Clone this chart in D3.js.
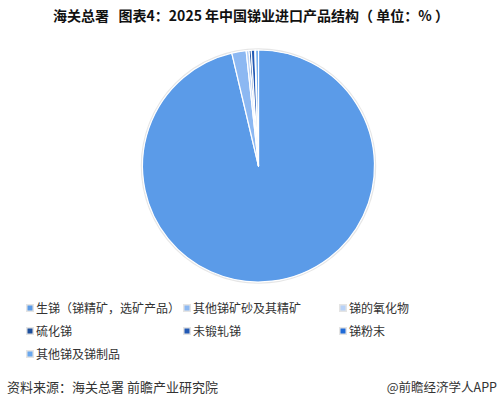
<!DOCTYPE html>
<html>
<head>
<meta charset="utf-8">
<script src="https://cdn.jsdelivr.net/npm/d3@7"></script>
<style>
  body { margin: 0; background: #fff; }
  svg { display: block; font-family: "Noto Sans CJK SC", "Noto Sans", sans-serif; }
  text { white-space: pre; }
</style>
</head>
<body>
<svg id="chart" width="503" height="400"></svg>
<script>
// 数据（从图中估读，单位：%）
const categories = ["生锑（锑精矿，选矿产品）", "其他锑矿砂及其精矿", "锑的氧化物", "硫化锑", "未锻轧锑", "锑粉末", "其他锑及锑制品"];
const values = [96.3, 2.0, 0.4, 0.3, 0.5, 0.1, 0.4];
const colors = ["#5b9be8", "#8cb8f2", "#b8d2f8", "#1d4f9c", "#2259b4", "#1f6ad8", "#6aa8ee"];

const svg = d3.select("#chart");

// 标题
svg.append("text")
    .attr("x", 251)
    .attr("y", 21)
    .attr("text-anchor", "middle")
    .attr("font-size", 14)
    .attr("font-weight", "bold")
    .attr("fill", "#111")
    .text("海关总署   图表4：2025 年中国锑业进口产品结构（ 单位：% ）");

// 饼图
const cx = 258.5, cy = 166, r = 116;
const pie = d3.pie().sort(null).value(d => d.v);
const arc = d3.arc().innerRadius(0).outerRadius(r);
const data = categories.map((c, i) => ({ c, v: values[i], color: colors[i] }));

const g = svg.append("g").attr("transform", `translate(${cx},${cy})`);
g.append("circle")
    .attr("r", r + 1)
    .attr("fill", "none")
    .attr("stroke", "#e6e6e6")
    .attr("stroke-width", 1.5);
g.selectAll("path")
    .data(pie(data))
    .enter()
    .append("path")
    .attr("d", arc)
    .attr("fill", d => d.data.color)
    .attr("stroke", "#fff")
    .attr("stroke-width", 1.2)
    .attr("stroke-linejoin", "round");

// 图例
const colX = [30, 187, 343];
const rowY = [308, 331, 354];
const legend = svg.append("g");
data.forEach((d, i) => {
    const x = colX[i % 3], y = rowY[Math.floor(i / 3)];
    legend.append("rect")
        .attr("x", x - 4).attr("y", y - 4)
        .attr("width", 8).attr("height", 8)
        .attr("fill", "#e4e4e4");
    legend.append("rect")
        .attr("x", x - 2.5).attr("y", y - 2.5)
        .attr("width", 5).attr("height", 5)
        .attr("fill", d.color);
    legend.append("text")
        .attr("x", x + 6)
        .attr("y", y + 5)
        .attr("font-size", 12)
        .attr("fill", "#333")
        .text(d.c);
});

// 来源
svg.append("text")
    .attr("x", 7).attr("y", 392)
    .attr("font-size", 13)
    .attr("fill", "#333")
    .text("资料来源：海关总署 前瞻产业研究院");
svg.append("text")
    .attr("x", 497).attr("y", 392)
    .attr("text-anchor", "end")
    .attr("font-size", 12.5)
    .attr("fill", "#333")
    .text("@前瞻经济学人APP");
</script>
</body>
</html>
